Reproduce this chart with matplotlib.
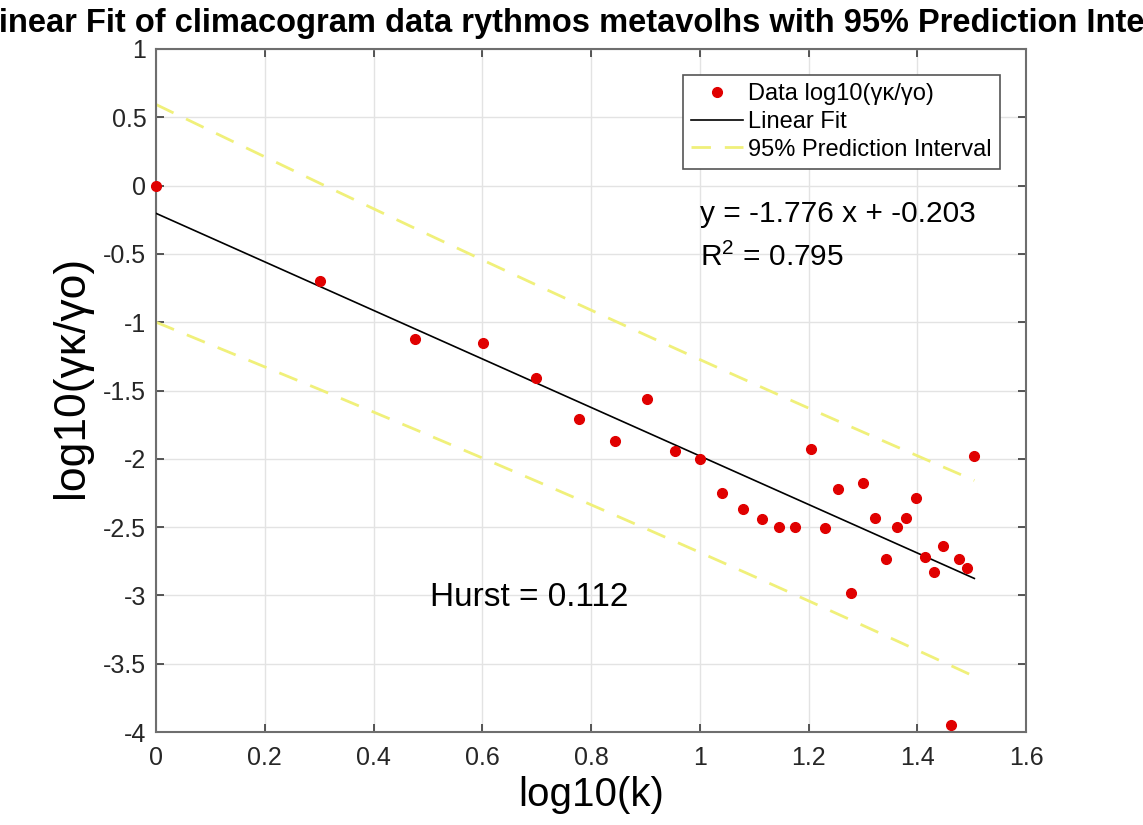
import numpy as np
import matplotlib
matplotlib.use("Agg")
import matplotlib.pyplot as plt
from matplotlib.lines import Line2D

plt.rcParams['font.family'] = ['Liberation Sans', 'DejaVu Sans']
plt.rcParams['mathtext.fontset'] = 'custom'
plt.rcParams['mathtext.rm'] = 'Liberation Sans'

# climacogram data, log10(k) vs log10(gamma_k / gamma_0)
log_k = [0.000, 0.301, 0.477, 0.602, 0.699, 0.778, 0.845, 0.903, 0.954, 1.000,
         1.041, 1.079, 1.114, 1.146, 1.176, 1.204, 1.230, 1.255, 1.279, 1.301,
         1.322, 1.342, 1.362, 1.380, 1.398, 1.415, 1.431, 1.447, 1.462, 1.477,
         1.491, 1.505]
log_g = [0.00, -0.70, -1.12, -1.15, -1.41, -1.71, -1.87, -1.56, -1.94, -2.00,
         -2.25, -2.37, -2.44, -2.50, -2.50, -1.93, -2.51, -2.22, -2.98, -2.18,
         -2.43, -2.73, -2.50, -2.43, -2.29, -2.72, -2.83, -2.64, -3.95, -2.73,
         -2.80, -1.98]

slope = -1.776
intercept = -0.203
r2 = 0.795
hurst = 0.112
t_crit = 2.042  # t(0.975, 30 dof)

x = np.array(log_k)
y = np.array(log_g)
n = len(x)
yfit = slope * x + intercept
s = np.sqrt(np.sum((y - yfit) ** 2) / (n - 2))
sxx = np.sum((x - x.mean()) ** 2)
half = t_crit * s * np.sqrt(1 + 1 / n + (x - x.mean()) ** 2 / sxx)

fig = plt.figure(figsize=(11.43, 8.25), dpi=100)
ax = fig.add_axes([156 / 1143, 1 - 732 / 825, 870 / 1143, 683 / 825])

band_col = '#f0f07a'
dash = (0, (7, 5))
ax.plot(x, y, 'o', color='#e00000', ms=7, mec='#e00000', zorder=4, clip_on=False)
ax.plot(x, yfit, color='black', lw=1.2, zorder=3)
ax.plot(x, yfit + half, color=band_col, lw=2, ls=dash, zorder=2)
ax.plot(x, yfit - half, color=band_col, lw=2, ls=dash, zorder=2)

ax.set_xlim(0, 1.6)
ax.set_ylim(-4, 1)
ax.set_xticks(np.arange(0, 1.61, 0.2))
ax.set_yticks(np.arange(-4, 1.01, 0.5))
ax.set_xticklabels(['0', '0.2', '0.4', '0.6', '0.8', '1', '1.2', '1.4', '1.6'])
ax.set_yticklabels(['-4', '-3.5', '-3', '-2.5', '-2', '-1.5', '-1', '-0.5', '0', '0.5', '1'])
ax.grid(True, color='#e3e3e3', lw=1.0)
ax.set_axisbelow(True)
for sp in ax.spines.values():
    sp.set_color('#6e6e6e')
    sp.set_linewidth(1.5)
ax.tick_params(direction='in', length=6, width=1.2, color='#3a3a3a',
               top=True, right=True, labelsize=18, labelcolor='#262626')
ax.tick_params(axis='x', pad=10)
ax.tick_params(axis='y', pad=7)

ax.set_xlabel('log10(k)', fontsize=29)
ax.set_ylabel('log10(γκ/γο)', fontsize=32)
ax.xaxis.set_label_coords(0.5, -0.064)
ax.yaxis.set_label_coords(-0.074, 0.52)
ax.set_title('Linear Fit of climacogram data rythmos metavolhs with 95% Prediction Interval',
             fontsize=23.5, fontweight='bold', pad=12)

ax.text(1.0, -0.266, 'y = %.3f x + %.3f' % (slope, intercept), fontsize=21.5, va='baseline')
ax.text(1.0, -0.588, r'R$^{\mathrm{2}}$ = %.3f' % r2, fontsize=21.5, va='baseline')
ax.text(0.504, -3.077, 'Hurst = %.3f' % hurst, fontsize=24, va='baseline')

handles = [Line2D([], [], ls='none', marker='o', color='#e00000', ms=7),
           Line2D([], [], color='black', lw=1.2),
           Line2D([], [], color=band_col, lw=2, ls=dash)]
labels = ['Data log10(γκ/γο)', 'Linear Fit', '95% Prediction Interval']
leg = ax.legend(handles, labels, loc='upper right', bbox_to_anchor=(0.970, 0.962),
                borderaxespad=0, fontsize=17, fancybox=False, framealpha=1,
                handlelength=2.2, handletextpad=0.2, borderpad=0.35, labelspacing=0.24)
leg.get_frame().set_edgecolor('#555555')
leg.get_frame().set_linewidth(1.2)

fig.savefig('out.png', dpi=100)
